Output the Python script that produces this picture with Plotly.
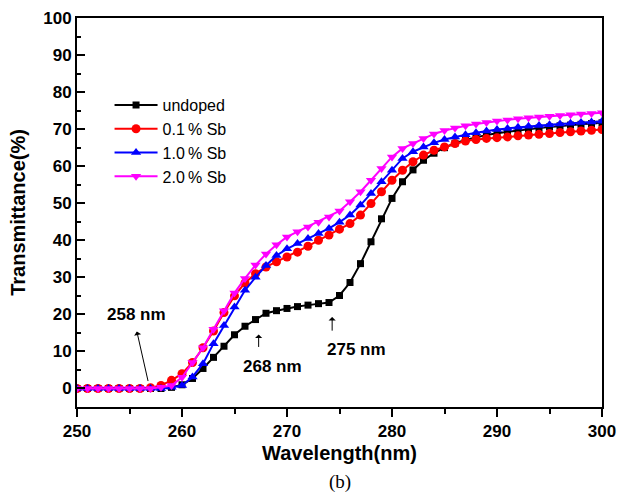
import plotly.graph_objects as go

wavelength = list(range(250, 301))

undoped = [0, 0, 0, 0, 0, 0, 0, 0, 0,
           0.3, 1.0, 2.7, 5.4, 8.4, 11.4, 14.5, 16.8, 18.6, 20.3, 21.0,
           21.6, 22.1, 22.5, 22.9, 23.2, 25.1, 28.6, 33.7, 39.6, 45.8,
           51.3, 55.8, 59.0, 61.6, 63.5, 65.0, 66.2, 67.1, 67.8, 68.4,
           68.9, 69.3, 69.7, 70.0, 70.3, 70.6, 70.9, 71.1, 71.3, 71.5, 71.7]

sb_01 = [0, 0, 0, 0, 0, 0, 0, 0.2, 0.8,
         2.2, 4.0, 7.0, 11.0, 15.5, 20.5, 25.0, 28.5, 31.0, 32.8, 34.2,
         35.5, 36.8, 38.4, 40.0, 41.4, 43.0, 44.5, 46.8, 49.9, 53.1,
         56.2, 58.9, 61.2, 63.0, 64.3, 65.2, 66.1, 66.8, 67.2, 67.5,
         67.7, 67.9, 68.2, 68.4, 68.6, 68.8, 69.1, 69.3, 69.5, 69.7, 69.9]

sb_10 = [0, 0, 0, 0, 0, 0, 0, 0, 0,
         0.3, 0.8, 3.1, 6.7, 12.1, 17.0, 22.0, 26.5, 30.0, 33.2, 35.9,
         37.7, 39.1, 40.5, 41.8, 43.2, 44.9, 46.8, 49.5, 52.6, 55.8,
         58.9, 62.1, 63.9, 65.2, 66.3, 67.2, 67.9, 68.5, 69.0, 69.5,
         69.9, 70.2, 70.5, 70.8, 71.0, 71.2, 71.4, 71.6, 71.8, 71.9, 72.1]

sb_20 = [0, 0, 0, 0, 0, 0, 0, 0, 0.3,
         0.8, 3.0, 7.0, 11.0, 16.0, 21.0, 25.8, 29.7, 33.3, 36.3, 38.8,
         40.9, 42.3, 43.6, 44.9, 46.3, 47.9, 50.4, 53.1, 56.2, 59.4,
         62.5, 64.8, 66.1, 67.5, 68.7, 69.6, 70.3, 70.9, 71.4, 71.8,
         72.2, 72.5, 72.8, 73.1, 73.3, 73.5, 73.7, 73.9, 74.1, 74.2, 74.4]

series_names = ["undoped", "0.1\u2009% Sb", "1.0\u2009% Sb", "2.0\u2009% Sb"]
series_values = [undoped, sb_01, sb_10, sb_20]
series_colors = ["#000000", "#FF0000", "#0000FF", "#FF00FF"]
series_symbols = ["square", "circle", "triangle-up", "triangle-down"]
series_sizes = [7, 9, 9, 9]

FONT = "Arial, 'Liberation Sans', sans-serif"

fig = go.Figure()
for name, vals, col, sym, sz in zip(series_names, series_values, series_colors,
                                    series_symbols, series_sizes):
    fig.add_trace(go.Scatter(
        x=wavelength, y=vals, name=name, mode="lines+markers",
        line=dict(color=col, width=2),
        marker=dict(symbol=sym, size=sz, color=col, line=dict(width=0)),
    ))

# annotations: arrows and labels
arrow_style = dict(showarrow=True, arrowhead=1, arrowsize=1.2, arrowwidth=1,
                   arrowcolor="black", axref="x", ayref="y", text="")
fig.add_annotation(x=255.7, y=15.4, ax=256.8, ay=1.6, **arrow_style)
fig.add_annotation(x=267.3, y=14.6, ax=267.3, ay=10.8, **arrow_style)
fig.add_annotation(x=274.3, y=19.3, ax=274.3, ay=15.2, **arrow_style)

label_font = dict(family=FONT, size=17, color="black", weight="bold")
fig.add_annotation(x=255.7, y=20.0, text="258 nm", showarrow=False, font=label_font)
fig.add_annotation(x=268.6, y=6.0, text="268 nm", showarrow=False, font=label_font)
fig.add_annotation(x=276.6, y=10.5, text="275 nm", showarrow=False, font=label_font)

fig.add_annotation(x=0.5, y=-0.193, xref="paper", yref="paper", text="(b)",
                   showarrow=False, yanchor="middle", xanchor="center",
                   font=dict(family="'Liberation Serif', 'Times New Roman', serif",
                             size=19, color="black"))

tick_font = dict(family=FONT, size=17, color="black", weight="bold")
title_font = dict(family=FONT, size=20, color="black", weight="bold")

fig.update_layout(
    width=617, height=498,
    margin=dict(l=77, r=15, t=18, b=91),
    paper_bgcolor="white", plot_bgcolor="white",
    showlegend=True,
    legend=dict(x=0.062, y=0.82, xanchor="left", yanchor="top",
                bgcolor="rgba(0,0,0,0)", borderwidth=0,
                font=dict(family=FONT, size=16, color="black"),
                itemwidth=43, tracegroupgap=0),
    xaxis=dict(range=[250, 300], tick0=250, dtick=10, automargin=False,
               showgrid=False, zeroline=False,
               showline=True, linewidth=2, linecolor="black", mirror=True,
               ticks="outside", ticklen=8, tickwidth=2, tickcolor="black",
               tickfont=tick_font,
               minor=dict(dtick=5, tick0=250, ticks="outside", ticklen=5,
                          tickwidth=2, tickcolor="black", showgrid=False),
               title=dict(text="Wavelength(nm)", font=title_font, standoff=6)),
    yaxis=dict(range=[-5, 100], tick0=0, dtick=10, automargin=False,
               showgrid=False, zeroline=False,
               showline=True, linewidth=2, linecolor="black", mirror=True,
               ticks="inside", ticklen=8, tickwidth=2, tickcolor="black",
               tickfont=tick_font,
               minor=dict(dtick=5, tick0=0, ticks="inside", ticklen=4,
                          tickwidth=2, tickcolor="black", showgrid=False),
               title=dict(text="Transmittance(%)", font=title_font, standoff=12)),
)

fig.write_html("out.html",
               config={"displayModeBar": False},
               post_script="document.body.style.margin='0';"
                           "document.body.style.overflow='hidden';")
